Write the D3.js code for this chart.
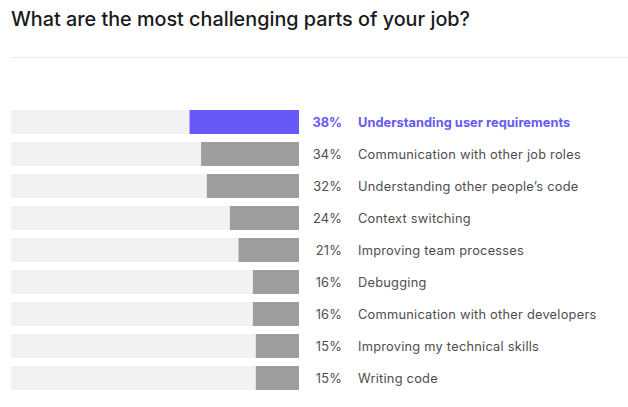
<!DOCTYPE html>
<html><head><meta charset="utf-8">
<script src="https://cdn.jsdelivr.net/npm/d3@7"></script>
<style>body{margin:0;background:#fff;}svg{display:block;}</style>
</head><body>
<svg id="c" width="628" height="407"></svg>
<script>
const title = "What are the most challenging parts of your job?";
const categories = ["Understanding user requirements","Communication with other job roles","Understanding other people\u2019s code","Context switching","Improving team processes","Debugging","Communication with other developers","Improving my technical skills","Writing code"];
const values = [38,34,32,24,21,16,16,15,15];
const highlight = [true,false,false,false,false,false,false,false,false];

const svg = d3.select("#c");
const font = "Inter, 'Noto Sans', sans-serif";
svg.append("text").attr("x",11).attr("y",26).text(title)
  .attr("font-family",font).attr("font-size",19.8).attr("font-weight",500).attr("fill","#19191c");
svg.append("line").attr("x1",11).attr("x2",628).attr("y1",57.5).attr("y2",57.5).attr("stroke","#e8e8e8").attr("stroke-width",1);

const x = d3.scaleLinear().domain([0,100]).range([0,288]);
const y = d3.scaleBand().domain(categories).range([110,390]).paddingInner(0.25).paddingOuter(0);
const left = 11, right = 299;
const g = svg.append("g");
const rows = g.selectAll("g.r").data(categories).join("g").attr("class","r");
rows.append("rect").attr("x",left).attr("y",d=>y(d)).attr("width",right-left).attr("height",y.bandwidth()).attr("fill","#f2f2f2");
rows.append("rect").attr("x",(d,i)=>right-x(values[i])).attr("y",d=>y(d)).attr("width",(d,i)=>x(values[i])).attr("height",y.bandwidth())
  .attr("fill",(d,i)=>highlight[i]?"#6659f7":"#9e9e9e");
rows.append("text").attr("x",342).attr("y",d=>y(d)+y.bandwidth()/2+4.5).attr("text-anchor","end")
  .text((d,i)=>values[i]+"%").attr("font-family",font).attr("font-size",12.8)
  .attr("letter-spacing",(d,i)=>highlight[i]?0:0.2)
  .attr("font-weight",(d,i)=>highlight[i]?700:400).attr("fill",(d,i)=>highlight[i]?"#6659f7":"#4d4d4d");
rows.append("text").attr("x",358).attr("y",d=>y(d)+y.bandwidth()/2+4.5)
  .text(d=>d).attr("font-family",font).attr("font-size",12.8)
  .attr("letter-spacing",(d,i)=>highlight[i]?0.05:0.25)
  .attr("font-weight",(d,i)=>highlight[i]?700:400).attr("fill",(d,i)=>highlight[i]?"#6659f7":"#4d4d4d");
</script>
</body></html>
